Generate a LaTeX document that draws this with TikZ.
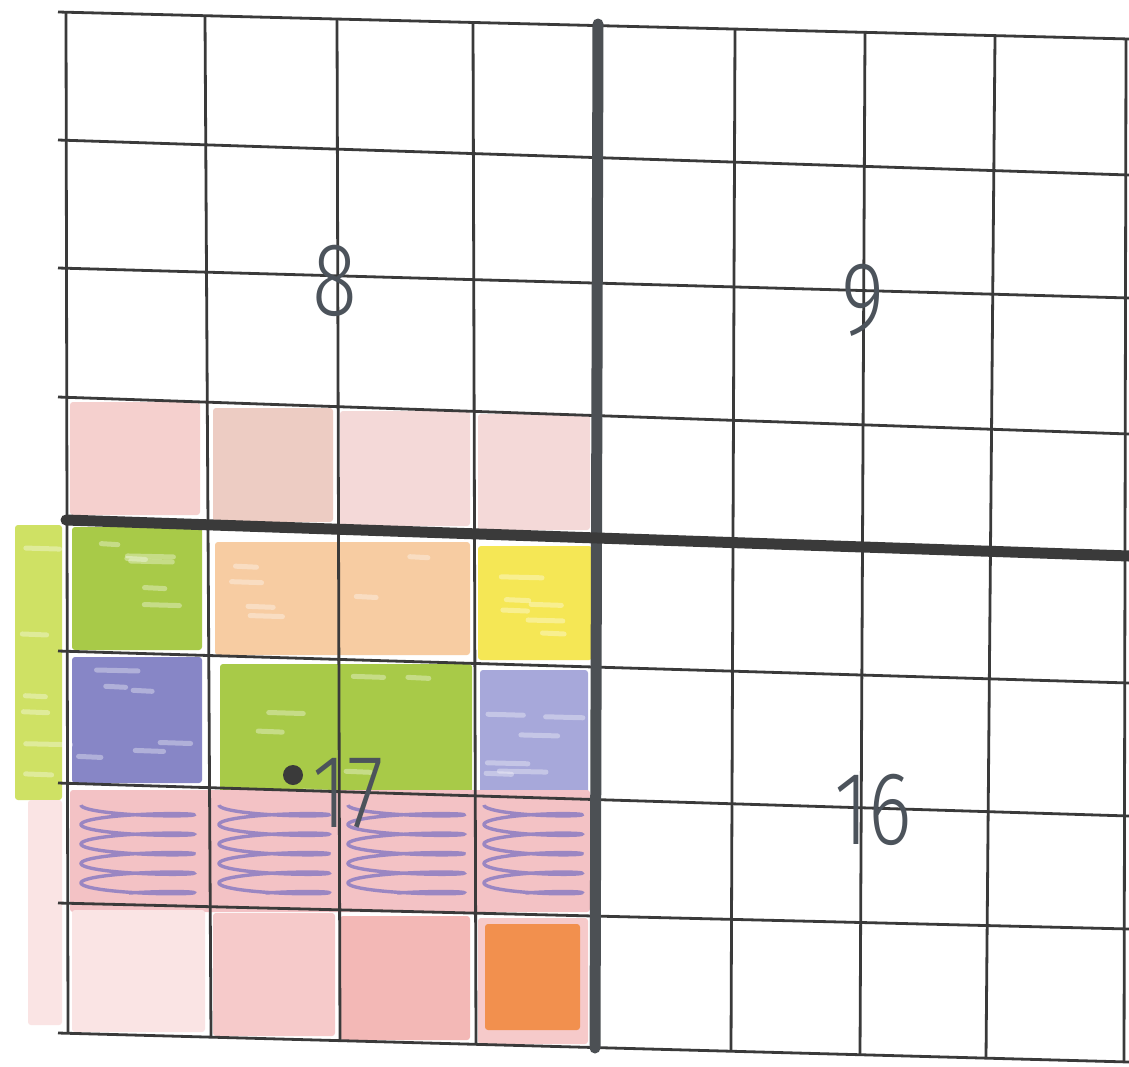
\documentclass[tikz,border=0pt]{standalone}
\usepackage{fontspec}
\IfFontExistsTF{Fira Sans Light}
	{\newfontfamily\handfont{Fira Sans Light}}
	{\newfontfamily\handfont{Fira Sans}}
\usetikzlibrary{
	positioning
}

\definecolor{gridgrey}{HTML}{3A3A3A}
\definecolor{penbar}{HTML}{4C5054}
\definecolor{inkgrey}{HTML}{4C535B}
\definecolor{rosepale}{HTML}{F5D0CE}
\definecolor{rosetan}{HTML}{EDCCC3}
\definecolor{roselight}{HTML}{F4D9D8}
\definecolor{limegreen}{HTML}{A8CA48}
\definecolor{limestrip}{HTML}{CFE164}
\definecolor{orangelight}{HTML}{F7CCA2}
\definecolor{lemon}{HTML}{F5E755}
\definecolor{violetdark}{HTML}{8786C6}
\definecolor{violetlight}{HTML}{A7A8DA}
\definecolor{pinkrow}{HTML}{F3C2C5}
\definecolor{scribblepurple}{HTML}{8478C2}
\definecolor{pinkfaint}{HTML}{FAE4E4}
\definecolor{pinkmid}{HTML}{F6CACA}
\definecolor{salmon}{HTML}{F3B8B6}
\definecolor{orangedeep}{HTML}{F2904E}

\begin{document}
\begin{tikzpicture}[
			x=1pt,y=-1pt,
			gridline/.style={draw=gridgrey,line width=2.8pt},
			thickline/.style={draw=#1,line width=11pt,line cap=round},
			crayon/.style={fill=#1,rounded corners=3pt},
			streak/.style={draw=white,line width=5pt,opacity=0.35,line cap=round},
			scribble/.style={draw=scribblepurple,line width=3.4pt,opacity=0.8},
			digit/.style={
				font=\handfont\fontsize{104}{110}\selectfont,
				text=inkgrey,
				inner sep=0pt,
				xscale=0.8
			},
			dotmark/.style={circle,fill=gridgrey,inner sep=0pt,minimum size=20pt}
			]
			
			\useasboundingbox[fill=white] (0,0) rectangle (1129,1066);
			
			\fill[crayon=limestrip] (15,525) rectangle (62,800);
			\fill[crayon=pinkfaint] (28,800) rectangle (62,1025);
			
			\fill[crayon=rosepale] (70,402) rectangle (200,515);
			\fill[crayon=rosetan] (213,408) rectangle (333,522);
			\fill[crayon=roselight] (340,411) rectangle (470,526);
			\fill[crayon=roselight] (478,414) rectangle (590,530);
			
			\fill[crayon=limegreen] (72,527) rectangle (202,650);
			\fill[crayon=orangelight] (215,542) rectangle (470,655);
			\fill[crayon=lemon] (478,546) rectangle (592,660);
			
			\fill[crayon=violetdark] (72,657) rectangle (202,783);
			\fill[crayon=limegreen] (220,664) rectangle (472,803);
			\fill[crayon=violetlight] (480,670) rectangle (588,795);
			
			\pgfmathsetseed{11}
			\foreach \xa/\ya/\xb/\yb in {15/530/62/795,72/527/202/650,215/542/470/655,478/546/592/660,72/657/202/783,220/664/472/803,480/670/588/795}
				\foreach \k in {1,...,6}{
					\pgfmathsetmacro\sx{\xa+6+rnd*(\xb-\xa-40)}
					\pgfmathsetmacro\sy{\ya+8+rnd*(\yb-\ya-16)}
					\pgfmathsetmacro\sl{14+rnd*34}
					\draw[streak] (\sx,\sy) -- ++(\sl,1);
				}
			
			\fill[crayon=pinkrow] (70,790) rectangle (590,912);
			\foreach \xs/\wd in {75/125,213/122,342/128,478/110}
				\draw[scribble] plot[domain=0:30,samples=300,smooth]
					({\xs+\wd/2-(\wd/2-6)*cos(\x r)},{805+3.1*\x+5*sin(\x r)});
			
			\fill[crayon=pinkfaint] (72,910) rectangle (205,1032);
			\fill[crayon=pinkmid] (213,913) rectangle (335,1036);
			\fill[crayon=salmon] (340,916) rectangle (470,1040);
			\fill[crayon=pinkmid] (478,918) rectangle (588,1044);
			\fill[crayon=orangedeep] (485,924) rectangle (580,1030);
			
			\foreach \yl/\yr in {12/39,140/175,268/298,397/434,651/683,783/816,903/929,1033/1062}
				\draw[gridline] (58,\yl) -- (1129,\yr);
			
			\foreach \xt/\yt/\xb/\yb in {66/12/68/1033,205/16/211/1037,337/19/340/1041,473/22/476/1044,735/29/731/1051,865/32/860/1055,995/36/986/1058,1126/39/1124/1062}
				\draw[gridline] (\xt,\yt) -- (\xb,\yb);
			
			\draw[thickline=penbar] (598,24) -- (595,1048);
			\draw[thickline=gridgrey] (66,520) -- (1129,556);
			
			\node[digit] (eight) at (335,281) {8};
			
			\node[digit] (nine) at (863,300) {9};
			
			\node[digit] (seventeen) at (348,793) {17};
			
			\node[dotmark] (seventeendot) at (293,775) {};
			
			\node[digit] (sixteen) at (873,810) {16};
			
		\end{tikzpicture}
\end{document}
